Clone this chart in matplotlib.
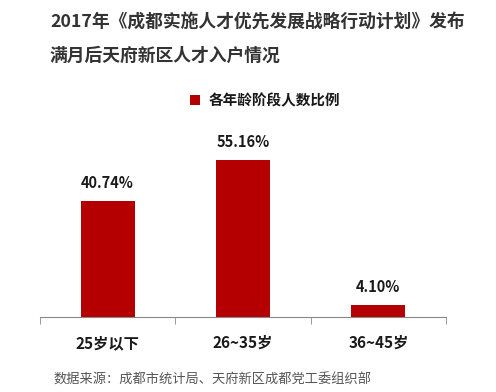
import matplotlib.pyplot as plt

plt.rcParams['font.family'] = ['Noto Sans CJK SC', 'DejaVu Sans']

# data
categories = ["25岁以下", "26~35岁", "36~45岁"]
values = [40.74, 55.16, 4.10]
series_name = "各年龄阶段人数比例"
title = "2017年《成都实施人才优先发展战略行动计划》发布\n满月后天府新区人才入户情况"
source = "数据来源：成都市统计局、天府新区成都党工委组织部"

fig = plt.figure(figsize=(4.96, 3.92), dpi=100)
ax = fig.add_axes([40/496, 75/392, 406/496, 199/392])

x = list(range(len(categories)))
bars = ax.bar(x, values, width=0.4, color="#B40000", label=series_name)

for xi, v in zip(x, values):
    ax.text(xi, v + 3.5, "%.2f%%" % v, ha="center", va="bottom",
            fontsize=10.5, fontweight="bold", color="#1a1a1a")

ax.set_xlim(-0.5, 2.5)
ax.set_ylim(0, 70)
ax.set_yticks([])
ax.set_xticks(x)
ax.set_xticklabels(categories, fontsize=11, fontweight="bold", color="#1a1a1a")
ax.tick_params(axis="x", which="major", length=0, pad=13)
ax.set_xticks([-0.5, 0.5, 1.5, 2.5], minor=True)
ax.tick_params(axis="x", which="minor", length=5, color="#888888", direction="out")
for s in ["top", "right", "left"]:
    ax.spines[s].set_visible(False)
ax.spines["bottom"].set_color("#888888")

leg = fig.legend(handles=[bars], labels=[series_name], loc="center",
                 bbox_to_anchor=(265/496, 1 - 100/392), frameon=False,
                 handlelength=0.7, handleheight=0.7, handletextpad=0.6,
                 prop={"size": 10.5, "weight": "bold"})
for t in leg.get_texts():
    t.set_color("#1a1a1a")

fig.text(50/496, 1 - 13/392, title, ha="left", va="top", fontsize=12.8,
         fontweight="bold", color="#333333", linespacing=2.1)
fig.text(53/496, 1 - 380/392, source, ha="left", va="center", fontsize=9.5,
         color="#555555")

fig.savefig("out.png", dpi=100)
